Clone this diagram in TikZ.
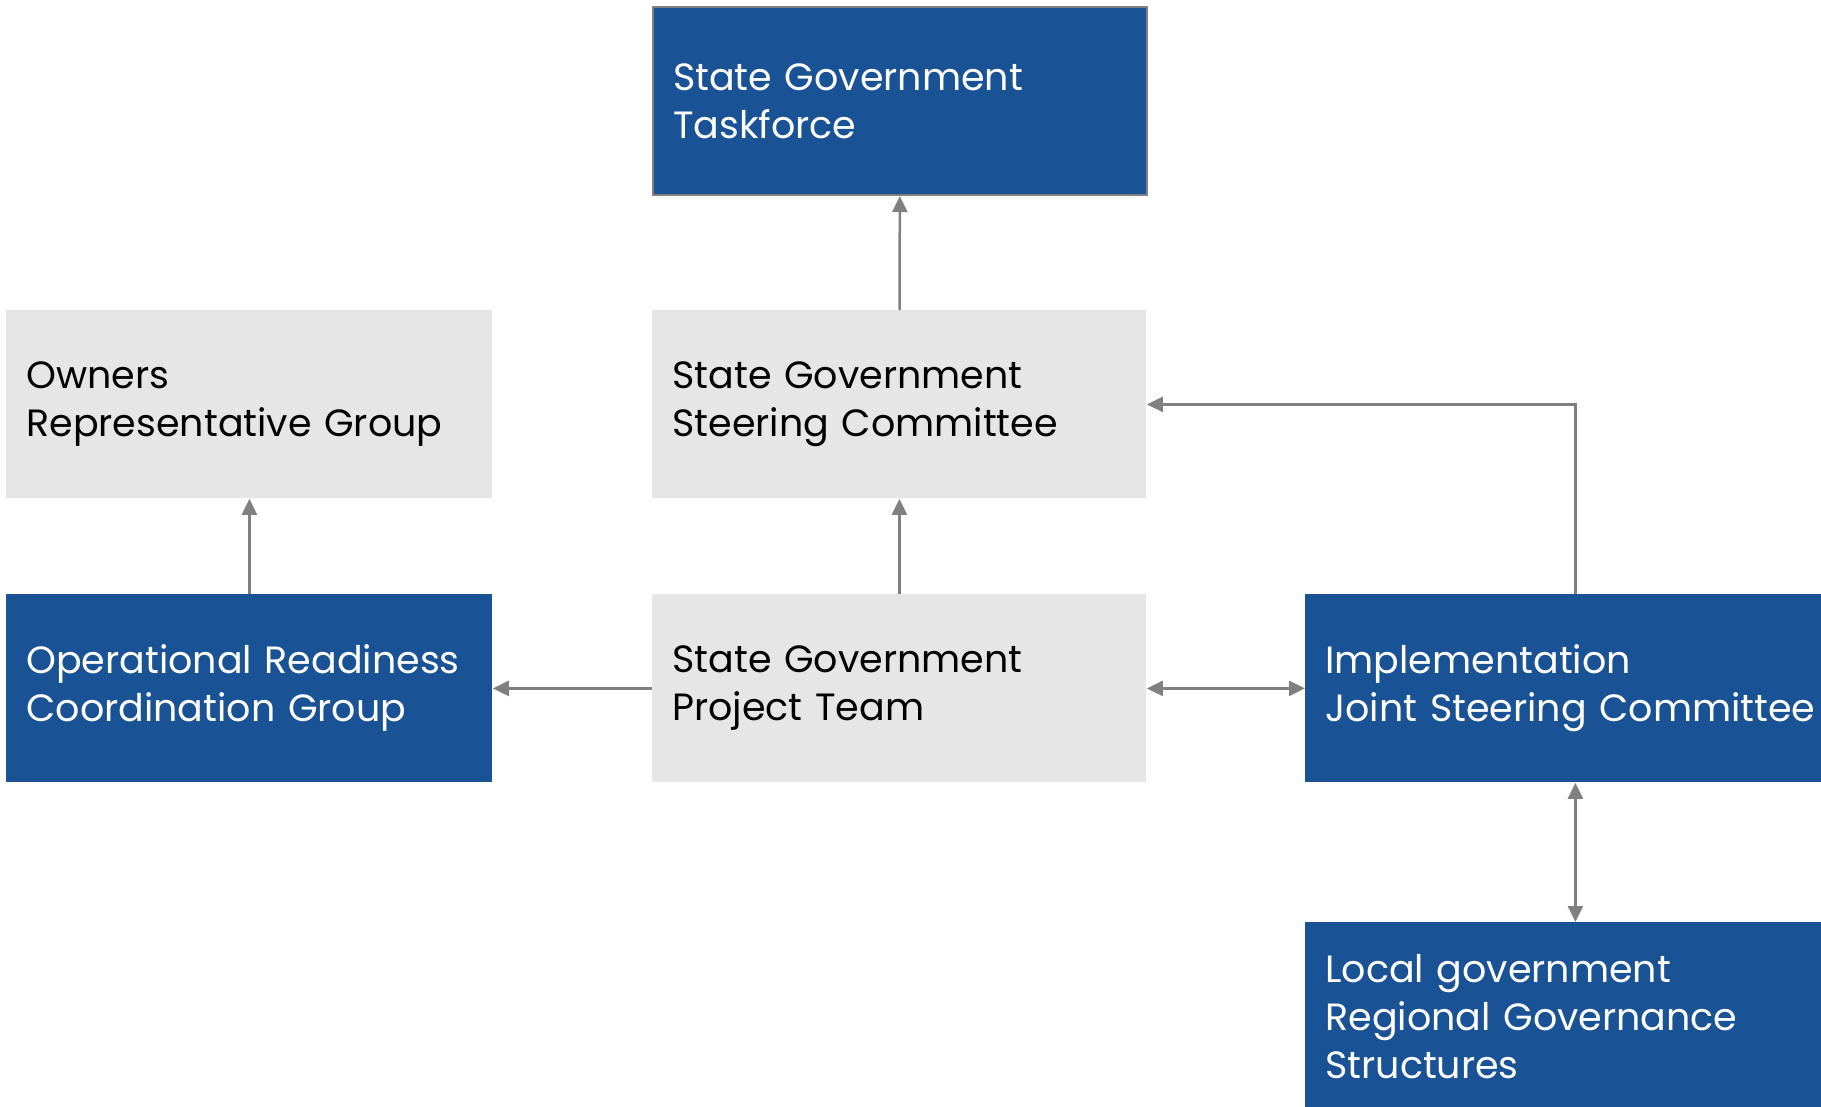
\documentclass[tikz,border=0pt]{standalone}
\usepackage{fontspec}
\setmainfont{Poppins}
\usepackage{xcolor}
\usetikzlibrary{positioning, arrows.meta}

\definecolor{govblue}{RGB}{26,82,150}
\definecolor{boxgrey}{RGB}{230,230,230}
\definecolor{linegrey}{RGB}{128,128,128}

\begin{document}
\begin{tikzpicture}[x=0.5pt,y=-0.5pt]
	\tikzstyle{unit}=[rectangle, anchor=north west, inner xsep=10pt, minimum height=94pt, align=left, font=\fontsize{19}{24}\selectfont]
	\tikzstyle{lightunit}=[unit, fill=boxgrey, text=black]
	\tikzstyle{darkunit}=[unit, fill=govblue, text=white]
	\tikzstyle{link}=[draw=linegrey, line width=1.25pt, >={Triangle[length=8pt,width=7.5pt]}]
	\useasboundingbox (0,0) rectangle (1821,1107);
	\clip (0,0) rectangle (1821,1107);
	% top row
	\node[darkunit, draw=linegrey, line width=1pt, text width=227pt](task) at (652,6){State Government\\Taskforce};
	% middle rows
	\node[lightunit, text width=223pt](owners) at (6,310){Owners\\Representative Group};
	\node[lightunit, text width=227pt](steer) at (652,310){State Government\\Steering Committee};
	\node[darkunit, text width=223pt](ops) at (6,594){Operational Readiness\\Coordination Group};
	\node[lightunit, text width=227pt](team) at (652,594){State Government\\Project Team};
	\node[darkunit, text width=250pt](impl) at (1305,594){Implementation\\Joint Steering Committee};
	% bottom right
	\node[darkunit, text width=250pt](local) at (1305,922){Local government\\Regional Governance\\Structures};
	% reporting lines
	\draw[link, ->] (steer) -- (task);
	\draw[link, ->] (team) -- (steer);
	\draw[link, ->] (team) -- (ops);
	\draw[link, ->] (ops) -- (owners);
	\draw[link, <->] (team) -- (impl);
	\draw[link, <->] (impl) -- (local);
	\draw[link, ->] (impl.north) |- (steer.east);
\end{tikzpicture}
\end{document}
